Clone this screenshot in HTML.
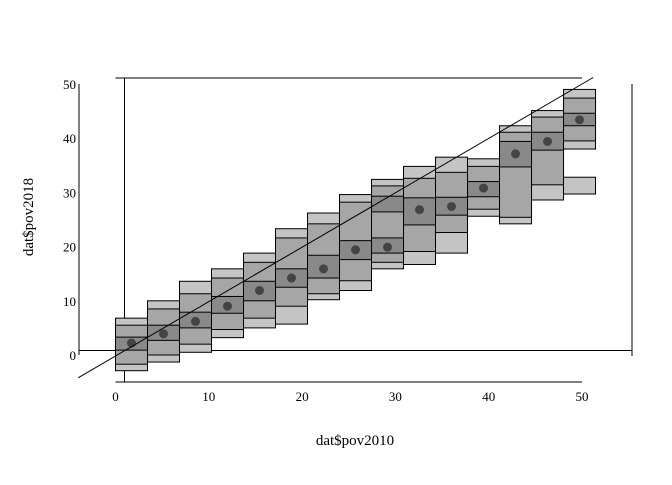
<!DOCTYPE html>
<html><head><meta charset="utf-8"><style>
body{margin:0;background:#fff}
svg text{font-family:"Liberation Serif",serif;fill:#000}
</style></head><body>
<svg id="chart" width="672" height="480" xmlns="http://www.w3.org/2000/svg">
<g id="frame"></g>
<g id="boxes"></g>
<g id="labels"></g>
</svg>
<script>
const binWidth = 3.43;
const binStarts = [0,3.43,6.86,10.29,13.72,17.15,20.58,24.01,27.44,30.87,34.3,37.73,41.16,44.59,48.02];
const hi3 = [6.8,10.0,13.6,15.9,18.8,23.3,26.2,29.6,32.4,34.8,36.5,36.2,42.3,45.1,49.0];
const hi2 = [5.5,8.5,11.3,14.2,17.1,21.6,24.2,28.2,31.2,32.6,33.7,34.8,41.1,43.9,47.4];
const hi1 = [3.3,5.5,7.9,10.8,13.6,15.9,18.4,21.1,21.6,29.0,29.1,32.0,39.4,41.1,44.6];
const medians = [2.2,3.9,6.2,9.0,11.9,14.2,15.9,19.4,19.9,26.8,27.4,30.8,37.1,39.4,43.4];
const lo1 = [0.9,2.7,5.0,7.7,10.0,12.5,14.2,17.6,18.8,24.0,25.8,29.2,34.7,37.8,42.3];
const lo2 = [-1.7,0,2.0,4.7,6.8,9.0,11.3,13.7,17.1,19.1,22.6,26.9,25.4,31.4,39.5];
const lo3 = [-2.9,-1.3,0.5,3.2,5.0,5.7,10.2,11.9,15.9,16.7,18.8,25.6,24.2,28.6,38.0];
const extraDark = [[8,26.4,29.3]];
const extraLight = [[14,29.7,32.8]];
const xTicks = [0,10,20,30,40,50];
const yTicks = [0,10,20,30,40,50];

const X = v => 115.5 + v*9.33;
const Y = v => 355 - v*5.42;
const NS = "http://www.w3.org/2000/svg";
function mk(tag, attrs, parent){const e=document.createElementNS(NS,tag);for(const k in attrs)e.setAttribute(k,attrs[k]);parent.appendChild(e);return e;}
const frame=document.getElementById('frame'), boxes=document.getElementById('boxes'), labels=document.getElementById('labels');
function line(x1,y1,x2,y2,name,p){const l=mk('line',{x1,y1,x2,y2,stroke:'#000','stroke-width':1},p);

return l;}
line(79,Y(50),79,Y(0),'y-axis-left',frame);
line(632,Y(50),632,Y(0)+1,'y-axis-right',frame);
line(X(0),78,X(50),78,'x-axis-top',frame);
line(X(0),382,X(50),382,'x-axis-bottom',frame);
line(79,350.5,632,350.5,'horizontal-reference-line',frame);
line(124.5,78,124.5,382,'vertical-reference-line',frame);

function rect(b,lo,hi,fill,name){const x=X(binStarts[b]);const w=X(binStarts[b]+binWidth)-x;
const r=mk('rect',{x:x,y:Y(hi),width:w,height:Y(lo)-Y(hi),fill:fill,stroke:'#000','stroke-width':1},boxes);

}
for(let i=0;i<binStarts.length;i++){
  rect(i,lo3[i],hi3[i],'#c4c4c4','outer-box');
  rect(i,lo2[i],hi2[i],'#a6a6a6','middle-box');
  rect(i,lo1[i],hi1[i],'#898989','inner-box');
}
extraDark.forEach(e=>rect(e[0],e[1],e[2],'#898989','extra-inner-box'));
extraLight.forEach(e=>rect(e[0],e[1],e[2],'#c4c4c4','extra-outer-box'));
for(let i=0;i<medians.length;i++){
  const c=mk('circle',{cx:X(binStarts[i]+binWidth/2),cy:Y(medians[i]),r:4.5,fill:'#444'},boxes);
  
  
}
const diag=line(X(-4),Y(-4.2),X(51.2),Y(51.2),'identity-line',boxes);

xTicks.forEach(t=>{const e=mk('text',{x:X(t),y:401,'font-size':13,'text-anchor':'middle'},labels);e.textContent=t;

});
yTicks.forEach(t=>{const e=mk('text',{x:76,y:Y(t)+5,'font-size':13,'text-anchor':'end'},labels);e.textContent=t;

});
const xt=mk('text',{x:355,y:445,'font-size':15,'text-anchor':'middle'},labels);xt.textContent='dat$pov2010';


const yt=mk('text',{x:0,y:0,'font-size':15,'text-anchor':'middle',transform:'translate(33,217) rotate(-90)'},labels);yt.textContent='dat$pov2018';


</script>
</body></html>
